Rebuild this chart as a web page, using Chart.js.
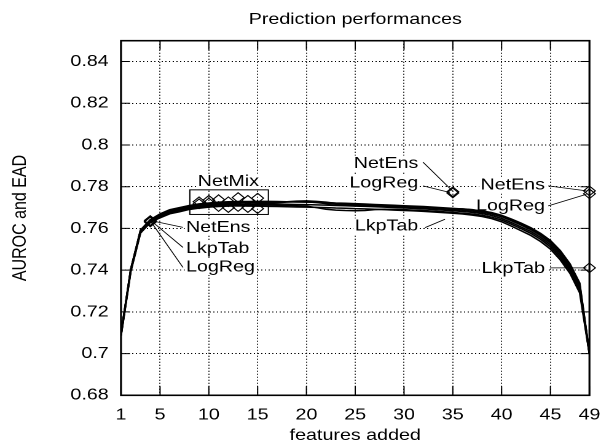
<!DOCTYPE html>
<html><head><meta charset="utf-8">
<script src="https://cdn.jsdelivr.net/npm/chart.js@4.4.1/dist/chart.umd.min.js"></script>
<style>
html,body{margin:0;padding:0;background:#fff;overflow:hidden;}
#wrap{width:489px;height:447px;transform:scaleX(1.22904);transform-origin:0 0;}
</style></head><body>
<div id="wrap"><canvas id="c" width="489" height="447"></canvas></div>
<script>
// ---- data ----
const features = [1,2,3,4,5,6,7,8,9,10,11,12,13,14,15,16,17,18,19,20,21,22,23,24,25,26,27,28,29,30,31,32,33,34,35,36,37,38,39,40,41,42,43,44,45,46,47,48,49];
const xTickValues = [1,5,10,15,20,25,30,35,40,45,49];
const yTickValues = [0.68,0.7,0.72,0.74,0.76,0.78,0.8,0.82,0.84];

const run1 = [0.709,0.740,0.7585,0.7635,0.766,0.768,0.769,0.770,0.7707,0.7712,0.7715,0.7717,0.7718,0.7718,0.7718,0.7718,0.7717,0.7716,0.7715,0.7714,0.7713,0.7712,0.7710,0.7709,0.7707,0.7706,0.7704,0.7702,0.7700,0.7698,0.7696,0.7694,0.7691,0.7688,0.7685,0.7681,0.7677,0.7671,0.7662,0.7648,0.7628,0.7607,0.7585,0.7557,0.7522,0.7472,0.7408,0.7315,0.7000];
const run2 = [0.7095,0.7405,0.7592,0.7642,0.7670,0.7690,0.7700,0.7710,0.7718,0.7722,0.7726,0.7728,0.7729,0.7729,0.7730,0.7730,0.7729,0.7728,0.7727,0.7726,0.7725,0.7724,0.7722,0.7721,0.7719,0.7717,0.7715,0.7713,0.7711,0.7709,0.7707,0.7705,0.7702,0.7699,0.7696,0.7693,0.7689,0.7684,0.7676,0.7663,0.7645,0.7625,0.7603,0.7576,0.7542,0.7494,0.7430,0.7338,0.7003];
const run3 = [0.7085,0.7393,0.7578,0.7628,0.7651,0.7670,0.7680,0.7691,0.7697,0.7702,0.7705,0.7707,0.7708,0.7707,0.7707,0.7706,0.7705,0.7704,0.7703,0.7702,0.7701,0.7700,0.7698,0.7697,0.7695,0.7694,0.7692,0.7690,0.7688,0.7686,0.7684,0.7682,0.7679,0.7676,0.7673,0.7669,0.7664,0.7657,0.7647,0.7632,0.7611,0.7589,0.7566,0.7537,0.7501,0.7450,0.7385,0.7292,0.6997];
const run4 = [0.7092,0.7402,0.7588,0.7637,0.7664,0.7684,0.7694,0.7704,0.7712,0.7717,0.7721,0.7722,0.7724,0.7725,0.7723,0.7722,0.7724,0.7726,0.7728,0.7727,0.7724,0.7719,0.7716,0.7714,0.7712,0.7710,0.7709,0.7707,0.7705,0.7703,0.7701,0.7699,0.7697,0.7694,0.7690,0.7687,0.7683,0.7677,0.7669,0.7656,0.7637,0.7616,0.7594,0.7566,0.7531,0.7482,0.7418,0.7324,0.7001];
const run5 = [0.7088,0.7397,0.7582,0.7632,0.7656,0.7675,0.7686,0.7696,0.7702,0.7707,0.7710,0.7712,0.7713,0.7713,0.7712,0.7712,0.7711,0.7710,0.7709,0.7707,0.7700,0.7692,0.7688,0.7686,0.7685,0.7686,0.7690,0.7692,0.7691,0.7690,0.7688,0.7686,0.7683,0.7680,0.7677,0.7673,0.7669,0.7663,0.7654,0.7640,0.7620,0.7599,0.7576,0.7548,0.7512,0.7461,0.7397,0.7305,0.6999];
const run6 = [0.7094,0.7404,0.7590,0.7640,0.7667,0.7687,0.7697,0.7707,0.7714,0.7719,0.7722,0.7724,0.7725,0.7726,0.7726,0.7725,0.7726,0.7728,0.7731,0.7732,0.7730,0.7726,0.7720,0.7717,0.7715,0.7713,0.7711,0.7709,0.7707,0.7705,0.7703,0.7701,0.7699,0.7697,0.7695,0.7694,0.7690,0.7681,0.7671,0.7658,0.7640,0.7620,0.7598,0.7570,0.7536,0.7488,0.7424,0.7331,0.7002];

const netMixX = [9,10,11,12,13,14,15];
const netMixA = [0.7728,0.7735,0.7738,0.7728,0.7748,0.7735,0.7745];
const netMixB = [0.7718,0.7722,0.7705,0.7700,0.7705,0.7700,0.7695];
const netEnsX = [4,35,49];
const netEnsY = [0.7638,0.7776,0.7780];
const logRegX = [4,35,49];
const logRegY = [0.7634,0.7770,0.7766];
const lkpTabX = [4,49];
const lkpTabY = [0.7631,0.7411];

// ---- annotations (data coordinates) ----
const labelTexts = ['NetMix','NetEns','LkpTab','LogReg','NetEns','LogReg','LkpTab','NetEns','LogReg','LkpTab'];
const labelX = [12.0,7.66,7.66,7.66,31.46,31.46,31.46,44.44,44.44,44.44];
const labelY = [0.7824,0.7604,0.7503,0.7415,0.7911,0.7817,0.7610,0.7807,0.7706,0.7408];
const labelAlign = ['center','left','left','left','right','right','right','right','right','right'];
const leaders = [
  [4.2,0.7636,7.35,0.7605],[4.2,0.7632,7.35,0.7509],[4.1,0.7630,7.35,0.7413],
  [31.94,0.7918,35,0.7778],[31.94,0.7804,34.7,0.7772],[32.15,0.7604,34.2,0.7644],
  [44.78,0.7804,48.7,0.7780],[44.78,0.7708,48.7,0.7764],[44.95,0.7411,48.7,0.7411]
];
const netMixBox = [8.05,0.7667,16.1,0.7785];

const FONT_FAMILY = '"Liberation Sans", Arial, Helvetica, sans-serif';
Chart.defaults.color = '#000';
Chart.defaults.font.family = FONT_FAMILY;
Chart.defaults.font.size = 16;

const pts = (xs, ys) => xs.map((x, i) => ({x, y: ys[i]}));
const lineDs = (ys) => ({data: pts(features, ys), showLine: true, borderColor: '#000', borderWidth: 1.5, pointRadius: 0, fill: false, tension: 0});
const markDs = (xs, ys) => ({data: pts(xs, ys), showLine: false, pointStyle: 'rectRot', pointRadius: 4.8, borderColor: '#000', borderWidth: 1, backgroundColor: 'rgba(0,0,0,0)', clip: false});

const annot = {
  id: 'annot',
  beforeDatasetsDraw(chart) {
    const {ctx} = chart; const X = chart.scales.x, Y = chart.scales.y;
    ctx.save();
    ctx.font = '16px ' + FONT_FAMILY;
    ctx.textBaseline = 'middle';
    labelTexts.forEach((t, i) => {
      const x = X.getPixelForValue(labelX[i]), y = Y.getPixelForValue(labelY[i]);
      const w = ctx.measureText(t).width;
      const a = labelAlign[i];
      const left = a === 'left' ? x : a === 'right' ? x - w : x - w / 2;
      ctx.fillStyle = '#fff';
      ctx.fillRect(left - 1, y - 8, w + 2, 16);
      ctx.fillStyle = '#000';
      ctx.textAlign = a;
      ctx.fillText(t, x, y);
    });
    ctx.restore();
  },
  afterDatasetsDraw(chart) {
    const {ctx, chartArea: ca} = chart; const X = chart.scales.x, Y = chart.scales.y;
    ctx.save();
    ctx.strokeStyle = '#000';
    ctx.lineWidth = 0.8;
    leaders.forEach(l => {
      ctx.beginPath();
      ctx.moveTo(X.getPixelForValue(l[0]), Y.getPixelForValue(l[1]));
      ctx.lineTo(X.getPixelForValue(l[2]), Y.getPixelForValue(l[3]));
      ctx.stroke();
    });
    ctx.lineWidth = 1;
    const bx0 = X.getPixelForValue(netMixBox[0]), by0 = Y.getPixelForValue(netMixBox[3]);
    const bx1 = X.getPixelForValue(netMixBox[2]), by1 = Y.getPixelForValue(netMixBox[1]);
    ctx.strokeRect(bx0, by0, bx1 - bx0, by1 - by0);
    // inward tick marks
    xTickValues.forEach(v => {
      const x = X.getPixelForValue(v);
      ctx.beginPath();
      ctx.moveTo(x, ca.bottom); ctx.lineTo(x, ca.bottom - 9);
      ctx.moveTo(x, ca.top); ctx.lineTo(x, ca.top + 9);
      ctx.stroke();
    });
    yTickValues.forEach(v => {
      const y = Y.getPixelForValue(v);
      ctx.beginPath();
      ctx.moveTo(ca.left, y); ctx.lineTo(ca.left + 7.3, y);
      ctx.moveTo(ca.right, y); ctx.lineTo(ca.right - 7.3, y);
      ctx.stroke();
    });
    // frame
    ctx.lineWidth = 1.6;
    ctx.strokeRect(ca.left, ca.top, ca.right - ca.left, ca.bottom - ca.top);
    ctx.restore();
  }
};

new Chart(document.getElementById('c'), {
  type: 'scatter',
  data: {
    datasets: [
      lineDs(run1), lineDs(run2), lineDs(run3), lineDs(run4), lineDs(run5), lineDs(run6),
      markDs(netMixX, netMixA), markDs(netMixX, netMixB),
      markDs(netEnsX, netEnsY), markDs(logRegX, logRegY), markDs(lkpTabX, lkpTabY)
    ]
  },
  options: {
    responsive: false,
    animation: false,
    devicePixelRatio: 2,
    layout: {padding: {left: 0, right: 9.4, top: 0, bottom: 0}},
    plugins: {
      legend: {display: false},
      tooltip: {enabled: false},
      title: {display: true, text: 'Prediction performances', fullSize: false, color: '#000',
              font: {size: 16, weight: 'normal'}, padding: {top: 10, bottom: 11.5}}
    },
    scales: {
      x: {
        type: 'linear', min: 1, max: 49,
        afterBuildTicks: s => { s.ticks = xTickValues.map(v => ({value: v})); },
        afterFit: s => { s.height = 51.7; s.paddingLeft = 0; s.paddingRight = 0; },
        ticks: {padding: 10, maxRotation: 0, autoSkip: false, callback: v => String(v), font: {size: 16}},
        grid: {color: '#000', lineWidth: 1, drawTicks: false},
        border: {display: false, dash: [1, 2]},
        title: {display: true, text: 'features added', font: {size: 16}, padding: {top: 0, bottom: 2}}
      },
      y: {
        type: 'linear', min: 0.68, max: 0.85,
        afterBuildTicks: s => { s.ticks = yTickValues.map(v => ({value: v})); },
        afterFit: s => { s.width = 98.45; s.paddingTop = 0; s.paddingBottom = 0; },
        ticks: {padding: 10, autoSkip: false, callback: v => String(Math.round(v * 100) / 100), font: {size: 16}},
        grid: {color: '#000', lineWidth: 1, drawTicks: false},
        border: {display: false, dash: [1, 2]},
        title: {display: true, text: 'AUROC and EAD', font: {size: 16}, padding: {top: 7, bottom: 0}}
      }
    }
  },
  plugins: [annot]
});
</script>
</body></html>
